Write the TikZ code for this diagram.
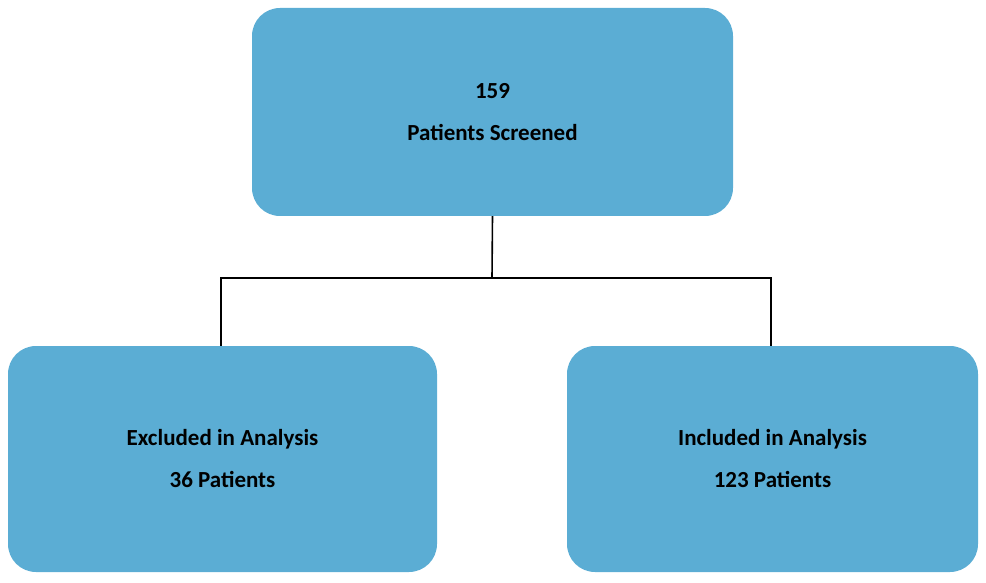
\documentclass[tikz,border=0pt]{standalone}
\usepackage{fontspec}
\setmainfont{Carlito}
\begin{document}
\begin{tikzpicture}[x=1pt,y=-1pt,
  box/.style={draw=none,fill=boxc,rounded corners=28pt,align=center,font=\fontsize{23}{42}\selectfont\bfseries,inner sep=0pt},
  line/.style={draw=black,line width=1.6pt}]
\definecolor{boxc}{HTML}{5BADD4}
\useasboundingbox (0,0) rectangle (986,583);
\node[box,minimum width=481pt,minimum height=208pt] (top) at (492.5,112) {159\\Patients Screened};
\node[box,minimum width=429pt,minimum height=226pt] (left) at (222.5,459) {Excluded in Analysis\\36 Patients};
\node[box,minimum width=411pt,minimum height=226pt] (right) at (772.5,459) {Included in Analysis\\123 Patients};
\coordinate (mid) at (492,278);
\draw[line] (top.south) -- (mid);
\draw[line] (left.north -| 221,0) |- (mid) -| (right.north -| 771,0);
\end{tikzpicture}
\end{document}
